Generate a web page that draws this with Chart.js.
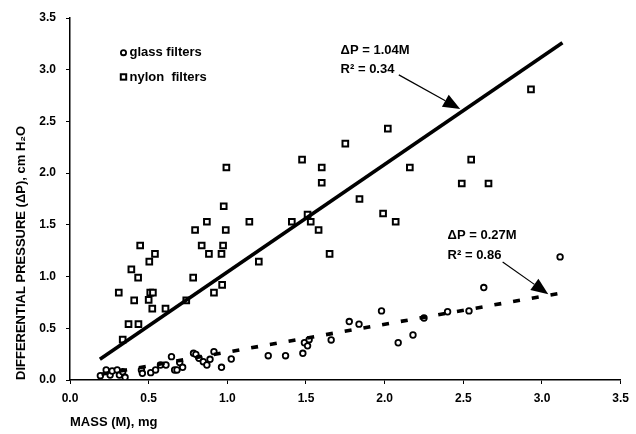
<!DOCTYPE html>
<html>
<head>
<meta charset="utf-8">
<script src="https://cdn.jsdelivr.net/npm/chart.js@4.4.1/dist/chart.umd.min.js"></script>
<style>
  html, body { margin: 0; padding: 0; background: #fff; }
  #wrap { width: 636px; height: 434px; }
</style>
</head>
<body>
<div id="wrap"><canvas id="chart" width="636" height="434"></canvas></div>
<script>
// mass (mg) and pressure drop (cm H2O)
const glassX = [0.193, 0.23, 0.255, 0.268, 0.30, 0.314, 0.335, 0.35, 0.454, 0.46,
  0.513, 0.544, 0.575, 0.61, 0.645, 0.665, 0.68, 0.697, 0.716, 0.785,
  0.80, 0.82, 0.847, 0.87, 0.89, 0.915, 0.963, 1.025, 1.26, 1.37,
  1.48, 1.49, 1.51, 1.52, 1.66, 1.775, 1.837, 1.98, 2.086, 2.18,
  2.25, 2.40, 2.536, 2.63, 3.115];
const glassY = [0.042, 0.097, 0.048, 0.087, 0.097, 0.048, 0.08, 0.026, 0.097, 0.065,
  0.071, 0.097, 0.145, 0.145, 0.226, 0.097, 0.097, 0.168, 0.123, 0.258,
  0.248, 0.21, 0.177, 0.145, 0.20, 0.274, 0.123, 0.203, 0.235, 0.235,
  0.258, 0.36, 0.33, 0.39, 0.387, 0.565, 0.54, 0.668, 0.36, 0.435,
  0.60, 0.66, 0.668, 0.894, 1.19];

const nylonX = [0.31, 0.335, 0.372, 0.39, 0.408, 0.433, 0.435, 0.446, 0.50, 0.504,
  0.51, 0.527, 0.523, 0.54, 0.607, 0.739, 0.783, 0.795, 0.837, 0.87,
  0.883, 0.915, 0.963, 0.967, 0.973, 0.977, 0.99, 0.994, 1.14, 1.20,
  1.41, 1.475, 1.51, 1.53, 1.58, 1.60, 1.60, 1.65, 1.75, 1.84,
  1.99, 2.02, 2.07, 2.16, 2.49, 2.55, 2.66, 2.93];
const nylonY = [0.845, 0.39, 0.54, 1.07, 0.77, 0.99, 0.54, 1.30, 0.775, 1.145,
  0.845, 0.845, 0.69, 1.22, 0.69, 0.77, 0.99, 1.45, 1.30, 1.53,
  1.22, 0.845, 1.22, 0.92, 1.30, 1.68, 1.45, 2.055, 1.53, 1.145,
  1.53, 2.13, 1.60, 1.53, 1.45, 2.055, 1.907, 1.22, 2.285, 1.75,
  1.61, 2.43, 1.53, 2.055, 1.90, 2.13, 1.90, 2.81];

// fitted lines, end points as drawn
const nylonFitX = [0.19, 3.13];
const nylonFitY = [0.20, 3.26];
const glassFitX = [0.20, 3.10];
const glassFitY = [0.055, 0.835];

const axisTicks = [0, 0.5, 1, 1.5, 2, 2.5, 3, 3.5];

const legendLabels = ["glass filters", "nylon  filters"];
const nylonNote = ["\u0394P = 1.04M", "R\u00b2 = 0.34"];
const glassNote = ["\u0394P = 0.27M", "R\u00b2 = 0.86"];

const FONT = "'Liberation Sans', Arial, sans-serif";

function toPoints(xs, ys) {
  return xs.map((x, i) => ({ x: x, y: ys[i] }));
}

// legend, equations and arrows, placed in data units
const notesPlugin = {
  id: "notes",
  afterDatasetsDraw(chart) {
    const ctx = chart.ctx;
    const sx = chart.scales.x, sy = chart.scales.y;
    const px = v => sx.getPixelForValue(v);
    const py = v => sy.getPixelForValue(v);

    ctx.save();
    ctx.fillStyle = "#000";
    ctx.strokeStyle = "#000";
    ctx.font = "bold 13px " + FONT;
    ctx.textBaseline = "middle";

    // legend
    const lx = px(0.34);
    ctx.lineWidth = 1.8;
    ctx.beginPath();
    ctx.arc(lx, py(3.165), 2.6, 0, Math.PI * 2);
    ctx.stroke();
    ctx.lineWidth = 2;
    ctx.strokeRect(lx - 2.7, py(2.93) - 2.7, 5.4, 5.4);
    ctx.fillText(legendLabels[0], lx + 6, py(3.165));
    ctx.fillText(legendLabels[1], lx + 6, py(2.93));

    // equations
    ctx.fillText(nylonNote[0], px(1.72), py(3.19));
    ctx.fillText(nylonNote[1], px(1.72), py(3.0));
    ctx.fillText(glassNote[0], px(2.40), py(1.40));
    ctx.fillText(glassNote[1], px(2.40), py(1.205));

    function arrow(x0, y0, x1, y1) {
      const a = px(x0), b = py(y0), c = px(x1), d = py(y1);
      const ang = Math.atan2(d - b, c - a);
      const len = 17, half = 7;
      const bx = c - len * Math.cos(ang), by = d - len * Math.sin(ang);
      ctx.lineWidth = 1.2;
      ctx.beginPath();
      ctx.moveTo(a, b);
      ctx.lineTo(bx, by);
      ctx.stroke();
      ctx.beginPath();
      ctx.moveTo(c, d);
      ctx.lineTo(bx + half * Math.sin(ang), by - half * Math.cos(ang));
      ctx.lineTo(bx - half * Math.sin(ang), by + half * Math.cos(ang));
      ctx.closePath();
      ctx.fill();
    }
    arrow(2.09, 2.95, 2.48, 2.62);
    arrow(2.75, 1.14, 3.04, 0.83);

    ctx.restore();
  }
};

const ctx = document.getElementById("chart").getContext("2d");
new Chart(ctx, {
  type: "scatter",
  data: {
    datasets: [
      {
        label: "nylon fit",
        type: "line",
        data: toPoints(nylonFitX, nylonFitY),
        borderColor: "#000",
        borderWidth: 3.6,
        pointRadius: 0,
        fill: false
      },
      {
        label: "glass fit",
        type: "line",
        data: toPoints(glassFitX, glassFitY),
        borderColor: "#000",
        borderWidth: 3.6,
        borderDash: [7, 12],
        pointRadius: 0,
        fill: false
      },
      {
        label: legendLabels[0],
        data: toPoints(glassX, glassY),
        pointStyle: "circle",
        pointRadius: 2.8,
        borderWidth: 1.8,
        borderColor: "#000",
        backgroundColor: "#fff"
      },
      {
        label: legendLabels[1],
        data: toPoints(nylonX, nylonY),
        pointStyle: "rect",
        pointRadius: 4,
        borderWidth: 2,
        borderColor: "#000",
        backgroundColor: "#fff"
      }
    ]
  },
  options: {
    responsive: false,
    animation: false,
    layout: { padding: { top: 18, right: 9, left: 0, bottom: 0 } },
    plugins: {
      legend: { display: false },
      tooltip: { enabled: false }
    },
    scales: {
      x: {
        type: "linear",
        min: 0,
        max: 3.5,
        afterBuildTicks: s => { s.ticks = axisTicks.map(v => ({ value: v })); },
        afterFit: s => { s.height = 54; },
        ticks: {
          color: "#000",
          padding: 7,
          font: { family: FONT, size: 12, weight: "bold" },
          callback: v => Number(v).toFixed(1)
        },
        grid: { drawOnChartArea: false, tickLength: 4, color: "#000" },
        border: { display: true, color: "#000", width: 1.5 },
        title: {
          display: true,
          text: "MASS (M), mg",
          align: "start",
          color: "#000",
          padding: { top: 0, bottom: 4 },
          font: { family: FONT, size: 13, weight: "bold" }
        }
      },
      y: {
        type: "linear",
        min: 0,
        max: 3.5,
        afterBuildTicks: s => { s.ticks = axisTicks.map(v => ({ value: v })); },
        afterFit: s => { s.width = 70; },
        ticks: {
          color: "#000",
          padding: 10,
          font: { family: FONT, size: 12, weight: "bold" },
          callback: v => Number(v).toFixed(1)
        },
        grid: { drawOnChartArea: false, tickLength: 4, color: "#000" },
        border: { display: true, color: "#000", width: 1.5 },
        title: {
          display: true,
          text: "DIFFERENTIAL PRESSURE (\u0394P), cm H\u2082O",
          align: "start",
          color: "#000",
          padding: { top: 14, bottom: 0 },
          font: { family: FONT, size: 13, weight: "bold" }
        }
      }
    }
  },
  plugins: [notesPlugin]
});
</script>
</body>
</html>
